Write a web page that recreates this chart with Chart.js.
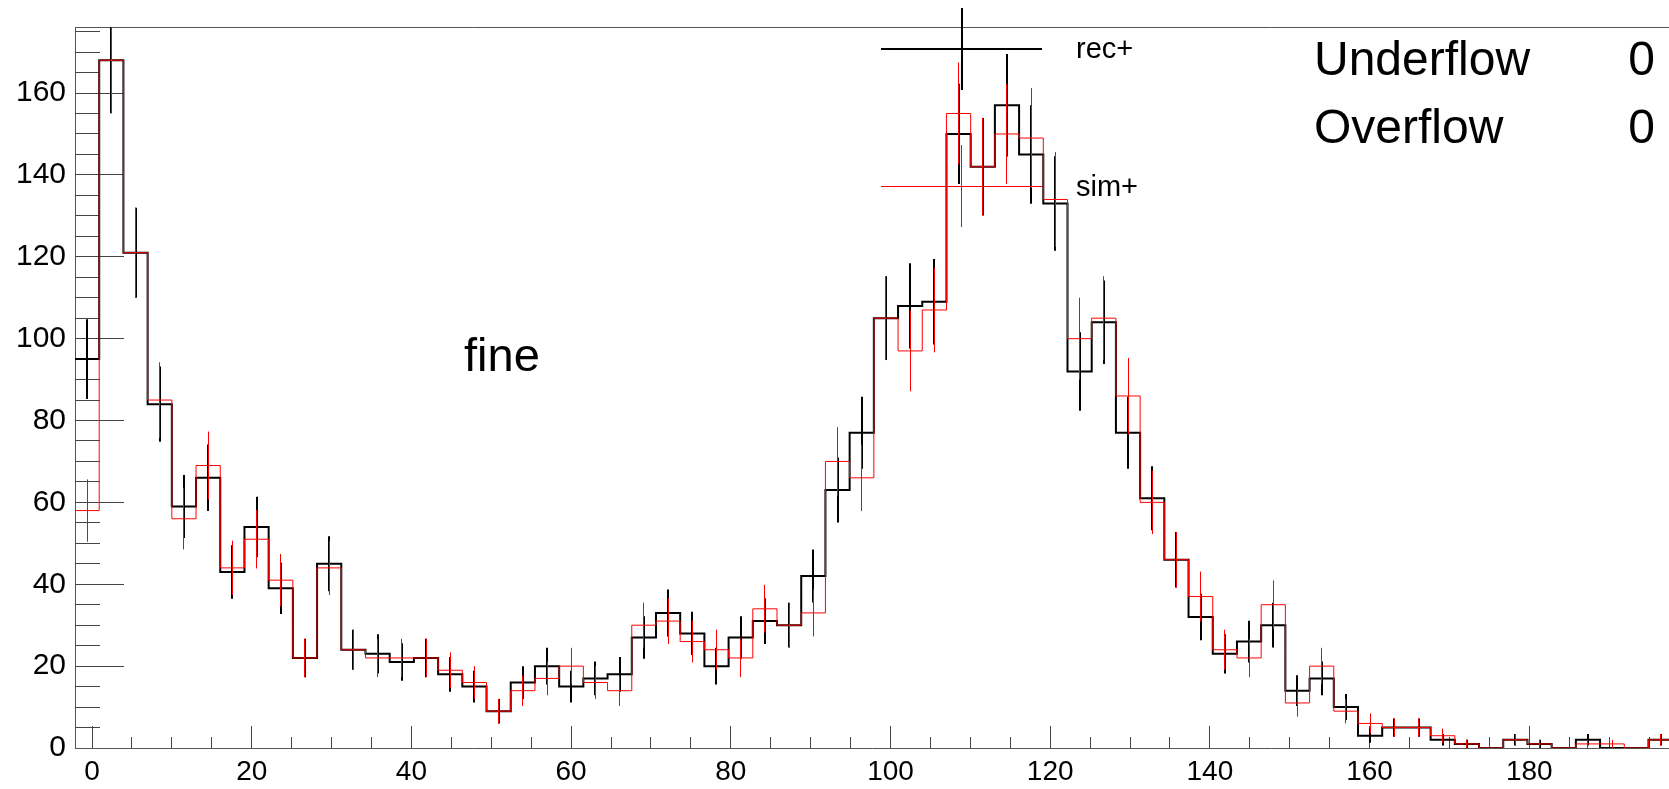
<!DOCTYPE html>
<html>
<head>
<meta charset="utf-8">
<title>fine</title>
<script src="https://cdn.jsdelivr.net/npm/chart.js@4.4.1/dist/chart.umd.min.js"></script>
<style>
  html, body { margin: 0; padding: 0; background: #ffffff; }
  canvas { display: block; }
</style>
</head>
<body>
<canvas id="histChart" width="1669" height="789"></canvas>
<script>
// Histogram binning (66 equal bins)
const xLow = -2.13;
const binWidth = 3.0317;

// Bin contents
const recValues = [95, 168, 121, 84, 59, 66, 43, 54, 39, 22, 45, 24, 23, 21, 22, 18, 15, 9, 16, 20,
                   15, 17, 18, 27, 33, 28, 20, 27, 31, 30, 42, 63, 77, 105, 108, 109, 150, 142, 157, 145,
                   133, 92, 104, 77, 61, 46, 32, 23, 26, 30, 14, 17, 10, 3, 5, 5, 2, 1, 0, 2,
                   1, 0, 2, 0, 0, 2];
const simValues = [58, 168, 121, 85, 56, 69, 44, 51, 41, 22, 44, 24, 22, 22, 22, 19, 16, 9, 14, 17,
                   20, 16, 14, 30, 31, 26, 24, 22, 34, 30, 33, 70, 66, 105, 97, 107, 155, 142, 150, 149,
                   134, 100, 105, 86, 60, 46, 37, 24, 22, 35, 11, 20, 9, 6, 5, 5, 3, 1, 0, 2,
                   1, 0, 1, 1, 0, 2];

// Axis tick labels
const xTickValues = [0, 20, 40, 60, 80, 100, 120, 140, 160, 180];
const yTickValues = [0, 20, 40, 60, 80, 100, 120, 140, 160];

const seriesNames = ['rec+', 'sim+'];
const FONT = '"Liberation Sans", Arial, Helvetica, sans-serif';

// Turn bin contents into left-edge points for a stepped line
function stepPoints(values) {
    const pts = values.map((v, i) => ({ x: xLow + i * binWidth, y: v }));
    pts.push({ x: xLow + values.length * binWidth, y: values[values.length - 1] });
    return pts;
}

function snap(p, w) {
    return w % 2 === 1 ? Math.round(p - 0.5) + 0.5 : Math.round(p);
}

// Poisson error bars drawn right after each histogram
const errorBars = {
    id: 'errorBars',
    afterDatasetDraw(chart, args) {
        const ds = chart.data.datasets[args.index];
        const values = args.index === 0 ? recValues : simValues;
        const { ctx, chartArea, scales: { x, y } } = chart;
        ctx.save();
        ctx.beginPath();
        ctx.rect(chartArea.left, chartArea.top, chartArea.right - chartArea.left, chartArea.bottom - chartArea.top);
        ctx.clip();
        ctx.strokeStyle = ds.borderColor;
        ctx.lineWidth = ds.borderWidth;
        ctx.beginPath();
        values.forEach((v, i) => {
            if (v <= 0) return;
            const err = Math.sqrt(v);
            const px = snap(x.getPixelForValue(xLow + (i + 0.5) * binWidth), ds.borderWidth);
            ctx.moveTo(px, y.getPixelForValue(v + err));
            ctx.lineTo(px, y.getPixelForValue(v - err));
        });
        ctx.stroke();
        ctx.restore();
    }
};

// ROOT-like frame: inward ticks, top line, legend and labels
const rootFrame = {
    id: 'rootFrame',
    beforeDatasetsDraw(chart) {
        const { ctx, chartArea, scales: { x, y } } = chart;
        ctx.save();
        ctx.strokeStyle = '#444';
        ctx.lineWidth = 1;
        ctx.beginPath();
        for (let v = 0; v <= x.max; v += 5) {
            const px = snap(x.getPixelForValue(v), 1);
            const len = v % 20 === 0 ? 22 : 11;
            ctx.moveTo(px, chartArea.bottom);
            ctx.lineTo(px, chartArea.bottom - len);
        }
        for (let v = 5; v <= y.max; v += 5) {
            const py = snap(y.getPixelForValue(v), 1);
            const len = v % 20 === 0 ? 49 : 25;
            ctx.moveTo(chartArea.left, py);
            ctx.lineTo(chartArea.left + len, py);
        }
        ctx.stroke();

        ctx.strokeStyle = '#555';
        ctx.beginPath();
        ctx.moveTo(chartArea.left, chartArea.top + 0.5);
        ctx.lineTo(chartArea.right, chartArea.top + 0.5);
        ctx.stroke();
        ctx.restore();
    },
    afterDraw(chart) {
        const { ctx } = chart;
        ctx.save();

        // legend entries
        const legend = [
            { color: '#000000', width: 2, y: 49, top: 8, bottom: 90, textY: 58 },
            { color: '#ff0000', width: 1, y: 186, top: 145, bottom: 227, textY: 196 }
        ];
        legend.forEach((item, i) => {
            ctx.strokeStyle = item.color;
            ctx.lineWidth = item.width;
            const ly = snap(item.y, item.width);
            const lx = snap(961.7, item.width);
            ctx.beginPath();
            ctx.moveTo(881, ly);
            ctx.lineTo(1042, ly);
            ctx.moveTo(lx, item.top);
            ctx.lineTo(lx, item.bottom);
            ctx.stroke();
            ctx.fillStyle = '#000';
            ctx.font = '29px ' + FONT;
            ctx.textAlign = 'left';
            ctx.textBaseline = 'alphabetic';
            ctx.fillText(seriesNames[i], 1076, item.textY);
        });

        // title-ish label
        ctx.font = '47px ' + FONT;
        ctx.fillText('fine', 464, 371);

        // stats box
        ctx.font = '48px ' + FONT;
        ctx.fillText('Underflow', 1314, 75);
        ctx.fillText('Overflow', 1314, 143);
        ctx.textAlign = 'right';
        ctx.fillText('0', 1655, 75);
        ctx.fillText('0', 1655, 143);
        ctx.restore();
    }
};

const ctx = document.getElementById('histChart').getContext('2d');
const chart = new Chart(ctx, {
    type: 'line',
    data: {
        datasets: [
            {
                label: seriesNames[0],
                data: stepPoints(recValues),
                stepped: 'before',
                borderColor: '#000000',
                borderWidth: 2,
                pointRadius: 0,
                fill: false,
                borderJoinStyle: 'miter',
                order: 1
            },
            {
                label: seriesNames[1],
                data: stepPoints(simValues),
                stepped: 'before',
                borderColor: '#ff0000',
                borderWidth: 1,
                pointRadius: 0,
                fill: false,
                borderJoinStyle: 'miter',
                order: 0
            }
        ]
    },
    options: {
        responsive: false,
        animation: false,
        devicePixelRatio: 1,
        layout: { padding: { top: 24, left: 0, right: 0, bottom: 0 } },
        plugins: {
            legend: { display: false },
            tooltip: { enabled: false }
        },
        scales: {
            x: {
                type: 'linear',
                min: xLow,
                max: 197.5,
                grid: { display: false, drawTicks: false },
                border: { display: true, color: '#555', width: 1 },
                afterFit: (scale) => { scale.height = 41; },
                afterBuildTicks: (scale) => { scale.ticks = xTickValues.map(v => ({ value: v })); },
                ticks: {
                    autoSkip: false,
                    maxRotation: 0,
                    padding: 7,
                    color: '#000',
                    font: { family: FONT, size: 28 },
                    callback: (v) => String(v)
                }
            },
            y: {
                type: 'linear',
                min: 0,
                max: 176.13,
                grid: { display: false, drawTicks: false },
                border: { display: true, color: '#555', width: 1 },
                afterFit: (scale) => { scale.width = 75; },
                afterBuildTicks: (scale) => { scale.ticks = yTickValues.map(v => ({ value: v })); },
                ticks: {
                    autoSkip: false,
                    padding: 9,
                    color: '#000',
                    font: { family: FONT, size: 30 },
                    callback: (v) => String(v)
                }
            }
        }
    },
    plugins: [errorBars, rootFrame]
});
</script>
</body>
</html>
